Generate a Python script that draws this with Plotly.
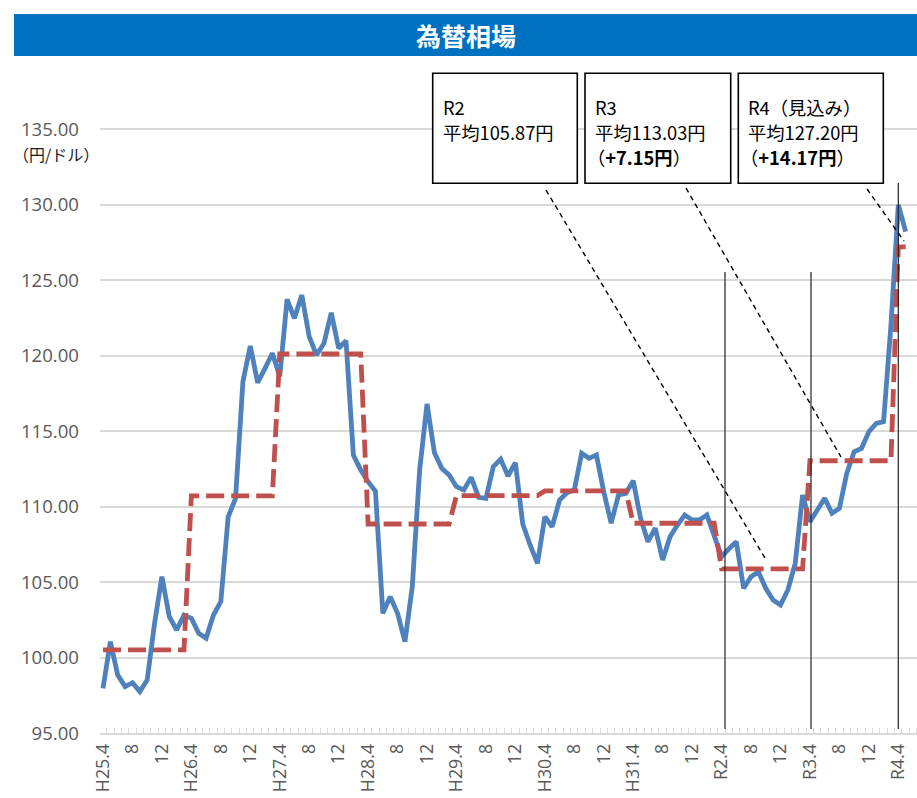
import plotly.graph_objects as go

# Month-end USD/JPY rate, April H25 (2013) through May R4 (2022)
rate = [
    97.96, 101.05, 98.84, 98.07, 98.33, 97.74, 98.51, 102.26, 105.35, 102.70, 101.82, 102.81,
    102.60, 101.60, 101.27, 102.81, 103.70, 109.32, 110.54, 118.27, 120.63, 118.20, 119.15, 120.15,
    118.60, 123.72, 122.46, 124.00, 121.25, 120.03, 120.80, 122.83, 120.48, 120.98, 113.41, 112.42,
    111.64, 111.00, 102.93, 104.03, 102.93, 101.05, 104.69, 112.42, 116.79, 113.57, 112.53, 112.09,
    111.31, 111.09, 111.93, 110.61, 110.54, 112.64, 113.13, 112.02, 112.90, 108.84, 107.45, 106.24,
    109.32, 108.66, 110.43, 110.91, 111.09, 113.52, 113.19, 113.41, 110.98, 108.89, 110.76, 110.87,
    111.70, 109.22, 107.67, 108.56, 106.46, 108.00, 108.77, 109.44, 109.11, 109.11, 109.44, 108.00,
    106.68, 107.20, 107.67, 104.58, 105.35, 105.68, 104.58, 103.81, 103.48, 104.47, 106.24, 110.76,
    109.00, 109.77, 110.54, 109.55, 109.88, 112.20, 113.63, 113.85, 114.95, 115.51, 115.62, 122.00,
    129.97, 128.20,
]

# Fiscal-year averages and the number of months each covers
fy_labels = ["H25", "H26", "H27", "H28", "H29", "H30", "R1", "R2", "R3", "R4"]
fy_avg = [100.50, 110.70, 120.10, 108.84, 110.72, 111.03, 108.89, 105.87, 113.03, 127.20]
fy_months = [12, 12, 12, 12, 12, 12, 12, 12, 12, 2]

tick_text = [
    "H25.4", "8", "12", "H26.4", "8", "12", "H27.4", "8", "12",
    "H28.4", "8", "12", "H29.4", "8", "12", "H30.4", "8", "12",
    "H31.4", "8", "12", "R2.4", "8", "12", "R3.4", "8", "12", "R4.4",
]

# Fiscal-year average repeated for each month of that year
avg_line = []
for a, n in zip(fy_avg, fy_months):
    avg_line += [a] * n

months = list(range(len(rate)))
tick_vals = months[::4][: len(tick_text)]

# Canvas geometry (pixels)
W, H = 917, 798
L, R, T, B = 100, 917, 60, 733
X0, XS = 103.0, 7.364      # pixel of first month, pixels per month
YS = 15.1                  # pixels per yen
Y_MIN = 95


def dx(px):
    return (px - X0) / XS


def dy(py):
    return Y_MIN + (B - py) / YS


def pxp(px):
    return (px - L) / (R - L)


def pyp(py):
    return (B - py) / (B - T)


GRID = "#d9d9d9"
Y_TICK_FONT = dict(family="Open Sans", size=18.6, color="#595959")
X_TICK_FONT = dict(family="Open Sans", size=17.8, color="#595959")
BOX_FONT = dict(family="Noto Sans CJK JP", size=18.3, color="#000000")

fig = go.Figure()
fig.add_trace(go.Scatter(
    x=months, y=rate, mode="lines",
    line=dict(color="#4F81BD", width=4.8),
    name="為替レート", hoverinfo="skip",
))
fig.add_trace(go.Scatter(
    x=months, y=avg_line, mode="lines",
    line=dict(color="#C0504D", width=4.8, dash="18px,7px"),
    name="年度平均", hoverinfo="skip",
))

shapes = []
annotations = []

# Title bar
shapes.append(dict(type="rect", xref="paper", yref="paper",
                   x0=pxp(14), x1=pxp(917), y0=pyp(56), y1=pyp(14),
                   fillcolor="#0070C0", line=dict(width=0), layer="above"))
annotations.append(dict(xref="paper", yref="paper", x=pxp(466), y=pyp(35),
                        text="<b>為替相場</b>", showarrow=False,
                        xanchor="center", yanchor="middle",
                        font=dict(family="Noto Sans CJK JP", size=25, color="white")))

# Unit label
annotations.append(dict(xref="paper", yref="paper", x=pxp(11), y=pyp(154),
                        text="（円/ドル）", showarrow=False,
                        xanchor="left", yanchor="middle",
                        font=dict(family="Noto Sans CJK JP", size=16, color="#1a1a1a")))

# Fiscal-year boundary markers
for px, top in [(725, 272), (811, 272), (898.3, 183)]:
    shapes.append(dict(type="line", xref="x", yref="y",
                       x0=dx(px), x1=dx(px), y0=dy(top), y1=dy(729),
                       line=dict(color="#222222", width=1.2), layer="above"))

# Leader lines from the callouts to the average steps
for (ax, ay), (bx, by) in [((546, 190), (765, 558)),
                           ((686, 188), (841, 457)),
                           ((867, 189), (904, 241))]:
    shapes.append(dict(type="line", xref="x", yref="y",
                       x0=dx(ax), y0=dy(ay), x1=dx(bx), y1=dy(by),
                       line=dict(color="#000000", width=1.4, dash="5px,4px"),
                       layer="above"))

# Callout boxes
boxes = [
    (432.7, 577.3, ["R2", "平均105.87円"]),
    (585.0, 730.7, ["R3", "平均113.03円", "（<b>+7.15円</b>）"]),
    (738.3, 883.3, ["R4（見込み）", "平均127.20円", "（<b>+14.17円</b>）"]),
]
for left, right, lines in boxes:
    shapes.append(dict(type="rect", xref="x", yref="y",
                       x0=dx(left), x1=dx(right), y0=dy(183.3), y1=dy(73.3),
                       fillcolor="white", line=dict(color="#000000", width=1.6),
                       layer="above"))
    for k, txt in enumerate(lines):
        # full-width opening parenthesis carries its own left spacing
        shift = -8 if txt.startswith("（") else 0
        annotations.append(dict(xref="x", yref="y",
                                x=dx(left + 8 + shift), y=dy(106.7 + 25 * k),
                                text=txt, showarrow=False,
                                xanchor="left", yanchor="middle",
                                font=BOX_FONT))

fig.update_layout(
    width=W, height=H,
    margin=dict(l=L, r=W - R, t=T, b=H - B, pad=0),
    paper_bgcolor="white", plot_bgcolor="white",
    showlegend=False,
    shapes=shapes, annotations=annotations,
    xaxis=dict(
        range=[dx(L), dx(R)],
        tickmode="array", tickvals=tick_vals, ticktext=tick_text,
        tickangle=-90, tickfont=X_TICK_FONT, ticks="",
        ticklabelstandoff=2,
        showgrid=False, zeroline=False,
        showline=True, linecolor=GRID, linewidth=1.6,
        minor=dict(tickmode="linear", tick0=-0.5, dtick=1,
                   ticks="inside", ticklen=5, tickcolor=GRID, tickwidth=1.2,
                   showgrid=False),
    ),
    yaxis=dict(
        range=[Y_MIN, dy(T)],
        tickmode="linear", tick0=95, dtick=5, tickformat=".2f",
        tickfont=Y_TICK_FONT, ticks="", ticklabelstandoff=20,
        showgrid=True, gridcolor=GRID, gridwidth=1.6,
        zeroline=False, showline=False,
    ),
)

fig.write_html("out.html")
